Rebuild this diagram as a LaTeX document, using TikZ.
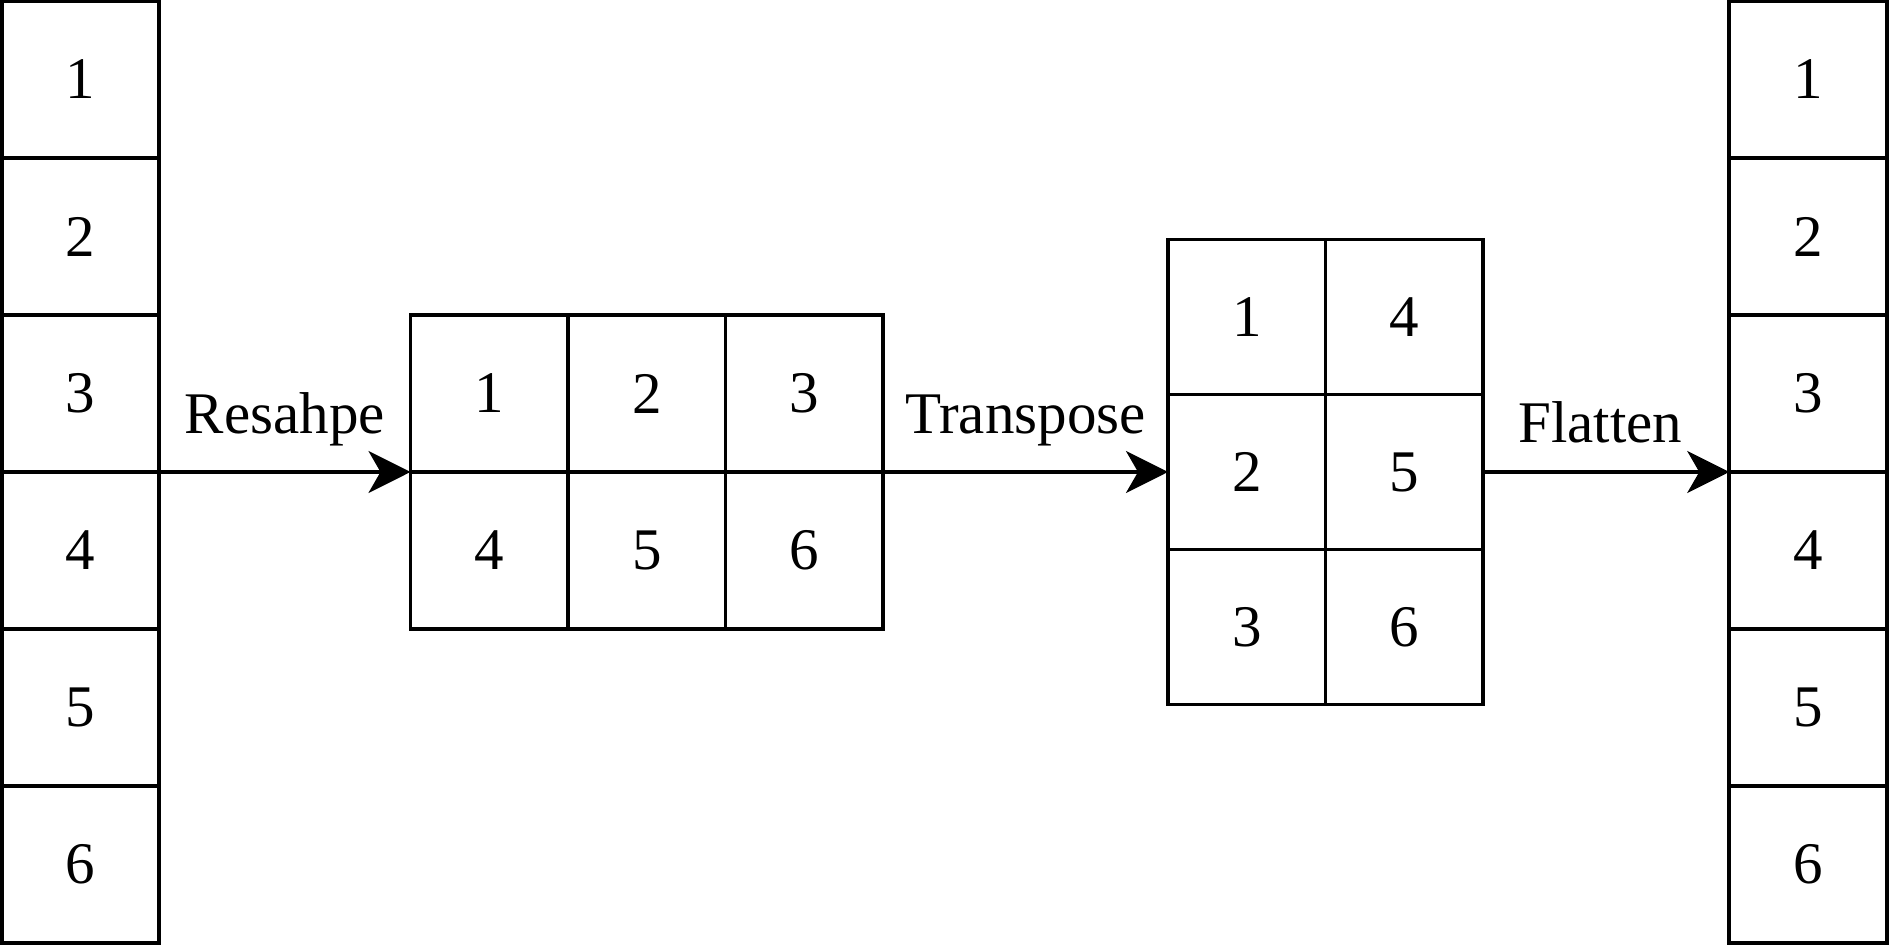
\documentclass[tikz,border=0pt]{standalone}
\usepackage{fontspec}
\setmainfont{Liberation Serif}
\usetikzlibrary{arrows.meta}

\begin{document}
\begin{tikzpicture}[x=0.5pt, y=0.5pt,
  cell/.style={draw, line width=1.8pt, minimum width=78.75pt, minimum height=78.5pt, inner sep=0pt, outer sep=0pt, font=\fontsize{29.5}{35}\selectfont},
  tcell/.style={cell, minimum height=77.5pt},
  arr/.style={line width=1.8pt, -{Stealth[length=21pt, width=21pt, inset=6pt]}},
  lbl/.style={anchor=base, font=\fontsize{29.5}{35}\selectfont}]
  \useasboundingbox (0,0) rectangle (1891,947);
  \foreach \i in {1,...,6} {
    \node[cell] (l\i) at (80.5, {475+(3.5-\i)*157}) {\i};
    \node[cell] (r\i) at (1808, {475+(3.5-\i)*157}) {\i};
  }
  \foreach \n/\c/\r in {1/0/0, 2/1/0, 3/2/0, 4/0/1, 5/1/1, 6/2/1}
    \node[cell] (a\n) at ({489.25+\c*157.5}, {553.5-\r*157}) {\n};
  \foreach \n/\c/\r in {1/0/0, 2/0/1, 3/0/2, 4/1/0, 5/1/1, 6/1/2}
    \node[tcell] (b\n) at ({1246.75+\c*157.5}, {630-\r*155}) {\n};
  \draw[arr] (l3.south east) -- node[lbl, yshift=19pt] {Resahpe} (a1.south west);
  \draw[arr] (a3.south east) -- node[lbl, yshift=19pt] {Transpose} (b2.west);
  \draw[arr] (b5.east) -- node[lbl, yshift=14.5pt, xshift=-3pt] {Flatten} (r3.south west);
\end{tikzpicture}
\end{document}
